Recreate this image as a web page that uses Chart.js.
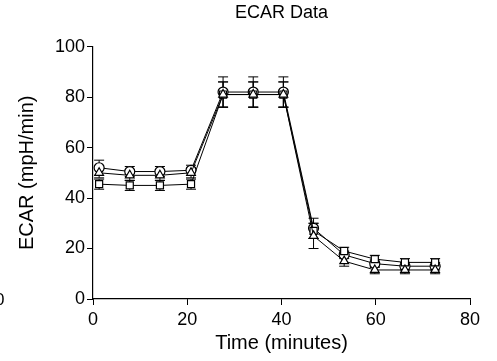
<!DOCTYPE html>
<html>
<head>
<meta charset="utf-8">
<script src="https://cdn.jsdelivr.net/npm/chart.js@4"></script>
<style>
  body { margin: 0; background: #fff; }
  #wrap { width: 497px; height: 361px; }
</style>
</head>
<body>
<div id="wrap"><canvas id="ecar_chart"></canvas></div>
<script>
// time points (minutes)
const times = [1.3, 7.8, 14.2, 20.8, 27.6, 34, 40.4, 46.8, 53.3, 59.8, 66.2, 72.6];

// ECAR values per group
const squareVals = [45.5, 45, 45, 45.5, 81, 81, 81, 27, 19, 15.8, 14.5, 14.5];
const circleVals = [52, 50.5, 50.5, 51, 82, 82, 82, 28, 17.5, 14, 13, 13];
const triangleVals = [50, 49, 49, 50, 81, 81, 81, 25, 15, 11.5, 11.5, 11.5];

// error (SEM)
const squareErr = [2, 2, 2, 2, 5, 5, 5, 3, 1.5, 1.5, 1.5, 1.5];
const circleErr = [3, 2, 2, 2, 6, 6, 6, 4, 1.5, 1.5, 1.5, 1.5];
const triangleErr = [2, 2, 2, 2, 5, 5, 5, 5, 2, 1.5, 1.5, 1.5];

const xTicks = [0, 20, 40, 60, 80];
const yTicks = [0, 20, 40, 60, 80, 100];

const FONT = '"Liberation Sans", Arial, sans-serif';

function toPoints(vals) {
    return times.map((t, i) => ({ x: t, y: vals[i] }));
}

const errorBars = {
    id: 'errorBars',
    beforeDatasetsDraw(chart) {
        const c = chart.ctx;
        const xs = chart.scales.x, ys = chart.scales.y;
        c.save();
        c.strokeStyle = '#000';
        c.lineWidth = 1;
        chart.data.datasets.forEach(ds => {
            ds.data.forEach((p, i) => {
                const px = xs.getPixelForValue(p.x);
                const top = ys.getPixelForValue(p.y + ds.err[i]);
                const bot = ys.getPixelForValue(p.y - ds.err[i]);
                c.beginPath();
                c.moveTo(px, top); c.lineTo(px, bot);
                c.moveTo(px - 5, top); c.lineTo(px + 5, top);
                c.moveTo(px - 5, bot); c.lineTo(px + 5, bot);
                c.stroke();
            });
        });
        c.restore();
    },
    afterDraw(chart) {
        // clipped label from neighbouring panel
        const c = chart.ctx;
        c.save();
        c.fillStyle = '#000';
        c.font = '17px ' + FONT;
        c.textBaseline = 'middle';
        c.fillText('0', -5, 300);
        c.restore();
    }
};

function series(label, vals, err, shape, order) {
    return {
        label: label,
        data: toPoints(vals),
        err: err,
        order: order,
        showLine: true,
        borderColor: '#000',
        borderWidth: 1,
        backgroundColor: '#fff',
        pointStyle: shape,
        pointRadius: 5,
        pointBorderColor: '#000',
        pointBackgroundColor: '#fff',
        pointBorderWidth: 1.2
    };
}

const ctx = document.getElementById('ecar_chart').getContext('2d');

new Chart(ctx, {
    type: 'scatter',
    data: {
        datasets: [
            series('Square', squareVals, squareErr, 'rect', 1),
            series('Circle', circleVals, circleErr, 'circle', 2),
            series('Triangle', triangleVals, triangleErr, 'triangle', 0)
        ]
    },
    options: {
        responsive: true,
        maintainAspectRatio: false,
        animation: false,
        layout: { padding: { left: 0, right: 27, top: 0, bottom: 0 } },
        plugins: {
            legend: { display: false },
            tooltip: { enabled: false },
            title: {
                display: true,
                fullSize: false,
                text: 'ECAR Data',
                color: '#000',
                font: { family: FONT, size: 18, weight: 'normal' },
                padding: { top: 2, bottom: 23 }
            }
        },
        scales: {
            x: {
                type: 'linear',
                min: 0,
                max: 80,
                afterBuildTicks: axis => { axis.ticks = xTicks.map(v => ({ value: v })); },
                afterFit: axis => { axis.height = 62; },
                grid: { drawOnChartArea: false, drawTicks: true, tickLength: 6, color: '#000' },
                border: { color: '#000', width: 1.2 },
                ticks: {
                    color: '#000',
                    font: { family: FONT, size: 18 },
                    padding: 4,
                    maxRotation: 0
                },
                title: {
                    display: true,
                    text: 'Time (minutes)',
                    color: '#000',
                    font: { family: FONT, size: 20 },
                    padding: { top: 0, bottom: 6 }
                }
            },
            y: {
                min: 0,
                max: 100,
                afterBuildTicks: axis => { axis.ticks = yTicks.map(v => ({ value: v })); },
                afterFit: axis => { axis.width = 93; },
                grid: { drawOnChartArea: false, drawTicks: true, tickLength: 6, color: '#000' },
                border: { color: '#000', width: 1.2 },
                ticks: {
                    color: '#000',
                    font: { family: FONT, size: 18 },
                    padding: 2
                },
                title: {
                    display: true,
                    text: 'ECAR (mpH/min)',
                    color: '#000',
                    font: { family: FONT, size: 20 },
                    padding: { top: 15, bottom: 0 }
                }
            }
        }
    },
    plugins: [errorBars]
});
</script>
</body>
</html>
